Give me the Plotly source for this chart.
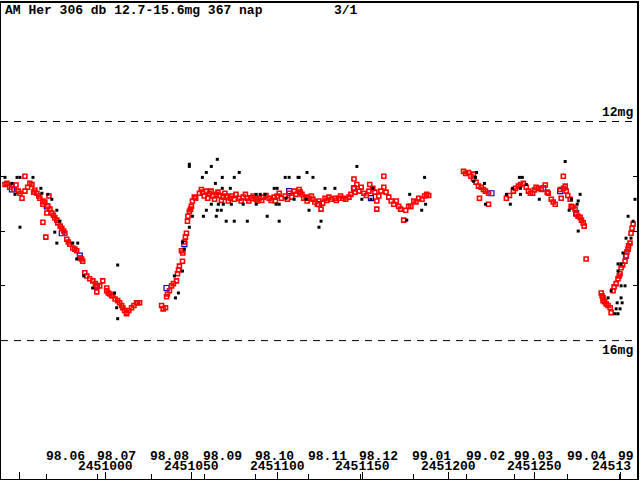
import plotly.graph_objects as go

JD0 = 2451000

# ---- data (days relative to JD 2451000, magnitudes) ----
red_day = [-58.7, -57.6, -54.7, -52.3, -50.0, -48.8, -47.1, -47.1, -44.2, -43.0, -41.3, -40.1,
           -38.4, -36.6, -36.6, -33.7, -33.1, -34.3, -31.4, -29.7, -27.9, -25.6, -36.6, -23.8,
           -34.9, -22.7, -20.9, -19.2, -16.9, -15.1, -13.4, -12.2, -9.3, -3.5, -5.2, -1.7,
           0.6, 0.6, -5.2, 3.5, 4.1, 7.0, 8.1, 9.3, 11.0, 12.2, 12.2, 15.1, 18.0, 18.6, 19.8,
           -56.0, -53.5, -51.0, -45.5, -42.0, -39.0, -35.5, -32.5, -30.5, -28.5, -26.5, -24.5,
           -21.8, -18.0, -14.0, -11.0, -7.5, -6.0, 1.5, 2.5, 5.5, 10.0, 13.5, 16.5,
           34.9, 32.6, 35.5, 37.2, 38.4, 41.3, 41.9, 43.0, 44.8, 44.2, 45.9, 47.1, 47.7, 48.8,
           50.0, 50.6, 51.7, 54.7, 55.8, 58.7, 60.5, 62.5, 64.5, 66.3, 68.6, 70.3, 72.7, 75.0,
           77.9, 80.2, 82.6, 84.9, 87.8, 89.5, 92.0, 95.3, 98.3, 100.0, 101.2, 104.7, 107.0,
           109.9, 112.8, 114.5, 116.9, 118.6, 120.9, 124.4, 125.6, 123.5, 127.9, 130.2, 133.7,
           136.0, 138.5, 141.9, 144.8, 144.8, 146.5, 147.7, 150.6, 153.5, 155.8, 158.1, 158.1,
           159.3, 162.2, 162.2, 165.1, 168.0, 170.9, 173.8, 176.7, 179.7, 182.6, 186.0, 187.2,
           188.4,
           33.5, 36.0, 39.5, 42.5, 45.0, 46.5, 48.0, 49.5, 52.5,
           56.5, 57.5, 59.5, 61.5, 63.5, 65.5, 67.5, 69.5, 71.5, 73.5, 76.0, 79.0, 81.5, 83.5,
           86.0, 88.5, 91.0, 93.5, 96.5, 99.0, 102.5, 106.0, 108.5, 111.0, 113.5, 115.5, 117.5,
           120.0, 122.0, 126.5, 129.0, 131.5, 134.5, 137.0, 140.0, 143.0, 145.5, 149.0, 152.0,
           154.0, 157.0, 160.5, 163.5, 166.5, 169.5, 172.0, 175.0, 178.0, 181.0, 184.5,
           208.7, 211.6, 214.5, 214.5, 217.4, 220.3, 223.3, 223.3, 218.0, 233.7, 237.8, 240.7,
           243.6, 245.3, 247.7, 250.0, 252.3, 256.4, 258.1, 259.9, 262.2, 266.9, 268.0, 265.1,
           268.6, 265.7, 270.9, 271.5, 273.8, 274.4, 276.7, 278.5, 279.1, 280.2,
           210.0, 213.0, 216.0, 219.0, 221.5, 235.5, 239.0, 242.0, 246.5, 249.0, 251.0, 254.0,
           257.5, 261.0, 267.0, 269.5, 272.5, 275.5, 277.5,
           289.0, 290.1, 290.1, 291.9, 294.2, 294.8, 295.9, 297.7, 298.8, 300.0, 300.6, 302.9,
           303.5, 304.7, 305.8, 306.4, 307.6,
           289.5, 291.0, 293.0, 296.5, 299.5, 301.5, 304.0, 305.0, 307.0]
red_mag = [13.15, 13.13, 13.16, 13.16, 13.31, 13.40, 13.00, 13.27, 13.13, 13.15, 13.25, 13.31,
           13.40, 13.45, 13.51, 13.55, 13.36, 13.67, 13.67, 13.76, 13.85, 13.95, 13.84, 14.04,
           14.11, 14.15, 14.24, 14.31, 14.36, 14.49, 14.55, 14.76, 14.87, 15.00, 15.00, 14.91,
           15.04, 15.09, 15.11, 15.18, 15.18, 15.27, 15.31, 15.36, 15.45, 15.49, 15.51, 15.40,
           15.31, 15.31, 15.31,
           13.20, 13.24, 13.27, 13.20, 13.29, 13.36, 13.47, 13.60, 13.71, 13.80, 13.91, 14.00,
           14.20, 14.33, 14.51, 14.82, 14.91, 14.96, 15.13, 15.15, 15.24, 15.40, 15.45, 15.36,
           15.40, 15.36, 15.20, 15.09, 15.00, 14.91, 14.78, 14.64, 14.55, 14.36, 14.20, 14.04,
           13.82, 13.64, 13.55, 13.45, 13.38, 13.31, 13.24, 13.27, 13.31, 13.36, 13.33, 13.35,
           13.38, 13.36, 13.40, 13.42, 13.40, 13.38, 13.40, 13.40, 13.42, 13.40, 13.38, 13.40,
           13.38, 13.36, 13.31, 13.36, 13.31, 13.27, 13.24, 13.33, 13.38, 13.40, 13.42, 13.45,
           13.60, 13.51, 13.40, 13.38, 13.40, 13.40, 13.40, 13.38, 13.22, 13.05, 13.15, 13.27,
           13.31, 13.27, 13.22, 13.45, 13.60, 13.36, 13.00, 13.20, 13.38, 13.51, 13.55, 13.80,
           13.55, 13.45, 13.40, 13.36, 13.33, 13.35,
           15.42, 15.15, 14.96, 14.71, 14.40, 14.11, 13.73, 13.60, 13.40,
           13.29, 13.36, 13.40, 13.27, 13.42, 13.29, 13.44, 13.31, 13.45, 13.36, 13.33, 13.45,
           13.33, 13.45, 13.36, 13.45, 13.44, 13.35, 13.44, 13.45, 13.40, 13.42, 13.38, 13.33,
           13.29, 13.40, 13.45, 13.36, 13.47, 13.49, 13.44, 13.42, 13.44, 13.36, 13.42, 13.33,
           13.29, 13.20, 13.35, 13.15, 13.29, 13.27, 13.29, 13.45, 13.45, 13.60, 13.62, 13.55,
           13.47, 13.42,
           12.91, 12.93, 12.96, 13.05, 13.18, 13.24, 13.31, 13.51, 13.40, 13.40, 13.27, 13.18,
           13.13, 13.20, 13.31, 13.25, 13.22, 13.16, 13.31, 13.42, 13.51, 13.00, 13.18, 13.24,
           13.27, 13.40, 13.42, 13.55, 13.60, 13.69, 13.75, 13.85, 13.91, 14.51,
           12.95, 13.00, 13.11, 13.20, 13.27, 13.35, 13.22, 13.15, 13.27, 13.31, 13.20, 13.24,
           13.29, 13.47, 13.22, 13.35, 13.56, 13.73, 13.80,
           15.13, 15.22, 15.27, 15.33, 15.40, 15.49, 15.09, 14.96, 14.87, 14.78, 14.67, 14.55,
           14.45, 14.33, 14.22, 14.04, 13.87,
           15.18, 15.29, 15.36, 15.02, 14.82, 14.62, 14.38, 14.27, 13.95]

black_day = [-58.7, -51.7, -50.0, -42.4, -54.7, -52.9, -37.8, -37.2, -33.7, -31.4, -28.5, -50.0,
             -29.7, -26.7, -28.5, -19.2, -16.3, -16.9, 7.0, -12.8, 5.2, 6.4, 7.0, -7.6,
             40.1, 44.8, 42.4, 40.7, 44.8, 45.9, 48.8, 61.6, 58.7, 77.9, 56.4, 68.0, 75.0, 64.0,
             104.7, 107.0, 112.2, 68.0, 72.7, 98.3, 100.0, 87.8, 90.1, 93.0, 61.6, 65.7, 68.6,
             73.3, 80.2, 87.8, 99.4, 101.2, 58.7, 65.1, 67.4, 50.6, 57.0, 64.5, 94.2, 101.2,
             70.3, 75.0, 82.6, 48.8, 109.9, 105.2, 48.8, 65.1,
             117.4, 146.5, 120.9, 112.8, 186.0, 127.9, 133.7, 155.8, 177.3, 116.9, 149.4, 154.7,
             186.6, 118.6, 125.6, 124.4, 184.3, 175.6,
             216.3, 215.7, 214.5, 220.9, 241.3, 243.0, 268.0, 237.2, 241.9, 245.3, 233.7, 241.9,
             276.7, 252.9, 236.0, 275.0, 270.3, 221.5, 271.5,
             275.6, 308.7, 275.6, 304.7, 307.6, 306.4, 303.5, 301.7, 298.8, 300.6, 298.8, 302.9,
             300.6, 300.6, 298.3, 301.2, 297.7, 300.0, 297.1, 298.8, 293.0, 294.8]
black_mag = [13.02, 13.02, 13.02, 13.02, 13.13, 13.33, 13.22, 13.31, 13.33, 13.42, 13.62, 13.93,
             14.02, 13.82, 14.22, 14.22, 14.22, 14.51, 14.62, 14.82, 15.13, 15.40, 15.60, 15.04,
             14.82, 14.73, 15.13, 15.22, 14.20, 14.33, 12.82, 12.82, 12.93, 12.93, 13.02, 13.02,
             13.02, 13.13, 13.02, 13.02, 13.02, 13.22, 13.22, 13.22, 13.22, 13.33, 13.33, 13.33,
             13.51, 13.51, 13.51, 13.51, 13.51, 13.51, 13.51, 13.51, 13.62, 13.62, 13.62, 13.73,
             13.73, 13.73, 13.73, 13.82, 13.82, 13.82, 13.82, 13.93, 13.42, 13.40, 12.78, 12.69,
             12.93, 12.82, 13.02, 13.02, 13.02, 13.22, 13.22, 13.22, 13.33, 13.42, 13.42, 13.42,
             13.51, 13.62, 13.82, 13.93, 13.62, 13.80,
             12.93, 13.02, 13.09, 13.13, 13.02, 13.02, 12.73, 13.22, 13.22, 13.15, 13.33, 13.33,
             13.33, 13.42, 13.51, 13.51, 13.62, 13.51, 13.42,
             13.45, 13.42, 14.00, 13.73, 13.82, 14.13, 14.13, 14.40, 14.60, 14.60, 14.73, 15.00,
             15.00, 15.22, 15.31, 15.31, 15.42, 15.42, 15.51, 15.51, 15.22, 15.09]

blue_day = [-54.7, -34.3, -25.6, -15.1, -5.2, 35.5, 45.9, 84.9, 107.0, 144.8, 154.7, 124.4,
            225.0, 255.2, 265.1, 274.4, 303.5]
blue_mag = [13.24, 13.55, 14.04, 14.45, 15.00, 15.04, 14.24, 13.40, 13.27, 13.22, 13.40, 13.51,
            13.31, 13.22, 13.27, 13.67, 14.45]

jd_ticks = [2450950, 2451000, 2451050, 2451100, 2451150, 2451200, 2451250, 2451300]
jd_labels = ["", "2451000", "2451050", "2451100", "2451150", "2451200", "2451250", "2451300"]
month_starts = [-34.5, -4.5, 26.5, 57.5, 87.5, 118.5, 148.5, 179.5, 210.5, 238.5, 269.5, 299.5]
month_labels = ["98.06", "98.07", "98.08", "98.09", "98.10", "98.11", "98.12",
                "99.01", "99.02", "99.03", "99.04", "99.05"]
mag_ticks = [13, 14, 15]
ref_mags = [12, 16]
ref_labels = ["12mg", "16mg"]

title_text = "AM Her 306 db 12.7-15.6mg 367 nap"
page_text = "3/1"

X_RANGE = [JD0 - 61.05, JD0 + 309.88]
FONT = dict(family="Liberation Mono", size=13, color="black", weight="bold")
CHAR_W = 7.8
PX_PER_DAY = 638 / (X_RANGE[1] - X_RANGE[0])

fig = go.Figure()
fig.add_trace(go.Scatter(x=[JD0 + d for d in blue_day], y=blue_mag, mode="markers",
                         marker=dict(symbol="square-open", size=5, color="#0000cc",
                                     line=dict(width=1.2, color="#0000cc"))))
fig.add_trace(go.Scatter(x=[JD0 + d for d in red_day], y=red_mag, mode="markers",
                         marker=dict(symbol="square-open", size=4, color="#ff0000",
                                     line=dict(width=1.6, color="#ff0000"))))
fig.add_trace(go.Scatter(x=[JD0 + d for d in black_day], y=black_mag, mode="markers",
                         marker=dict(symbol="square", size=3, color="black",
                                     line=dict(width=0))))

for m in ref_mags:
    fig.add_shape(type="line", xref="paper", x0=0, x1=1, yref="y", y0=m, y1=m,
                  line=dict(color="black", width=1, dash="7px,6px"))

ann = []
ann.append(dict(text=title_text, x=0.003, y=0.985, xref="paper", yref="paper",
                xanchor="left", yanchor="middle", showarrow=False, font=FONT))
ann.append(dict(text=page_text, x=0.52, y=0.985, xref="paper", yref="paper",
                xanchor="left", yanchor="middle", showarrow=False, font=FONT))
for m, t in zip(ref_mags, ref_labels):
    ann.append(dict(text=t, x=0.997, y=m, xref="paper", yref="y",
                    xanchor="right", yanchor="bottom" if m == 12 else "top",
                    showarrow=False, font=FONT))

for d, t in zip(month_starts, month_labels):
    left_px = 1 + (JD0 + d - X_RANGE[0]) * PX_PER_DAY
    a = dict(text=t, x=JD0 + d, y=0.047, xref="x", yref="paper",
             xanchor="left", yanchor="middle", showarrow=False, font=FONT, xshift=-3)
    if left_px + len(t) * CHAR_W > 638:
        a.update(width=max(int(638 - left_px), 4), align="left")
    ann.append(a)
for v, t in zip(jd_ticks, jd_labels):
    if not t:
        continue
    center_px = 1 + (v - X_RANGE[0]) * PX_PER_DAY
    half = len(t) * CHAR_W / 2
    a = dict(text=t, x=v, y=0.026, xref="x", yref="paper",
             xanchor="center", yanchor="middle", showarrow=False, font=FONT)
    if center_px + half > 638:
        a.update(xanchor="left", xshift=-half - 3,
                 width=max(int(634 - (center_px - half)), 4), align="left")
    ann.append(a)

fig.update_layout(
    width=640, height=480,
    margin=dict(l=1, r=1, t=1, b=1, pad=0),
    paper_bgcolor="white", plot_bgcolor="white",
    showlegend=False,
    annotations=ann,
    xaxis=dict(range=X_RANGE, showgrid=False, zeroline=False,
               showline=True, linecolor="black", linewidth=2, mirror=True,
               tickmode="array", tickvals=jd_ticks, ticks="inside", ticklen=7,
               tickwidth=1, tickcolor="black", showticklabels=False,
               minor=dict(tickmode="array", tickvals=[JD0 + d for d in month_starts],
                          ticks="inside", ticklen=5, tickwidth=1, tickcolor="black")),
    yaxis=dict(range=[18.527, 9.836], showgrid=False, zeroline=False,
               showline=True, linecolor="black", linewidth=2, mirror="ticks",
               tickmode="array", tickvals=mag_ticks, ticks="inside", ticklen=4,
               tickwidth=1, tickcolor="black", showticklabels=False),
)

fig.write_html("out.html", config={"displayModeBar": False},
               post_script="document.body.style.margin='0';")
